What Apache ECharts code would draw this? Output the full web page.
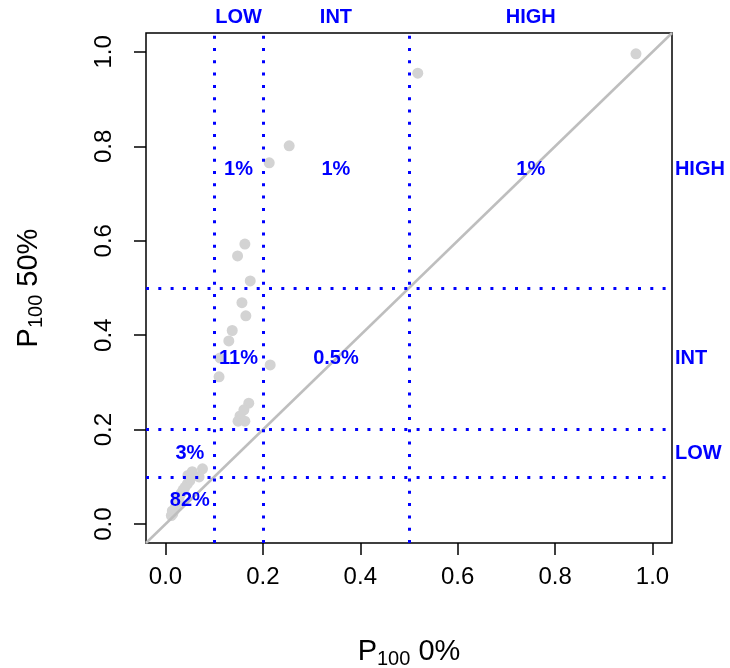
<!DOCTYPE html>
<html>
<head>
<meta charset="UTF-8">
<title>P100 0% vs P100 50%</title>
<script src="https://cdn.jsdelivr.net/npm/echarts@6/dist/echarts.min.js"></script>
<style>body{margin:0}</style>
</head>
<body>
<div id="main" style="width:730px;height:668px"></div>
<script>
// points: P100 at 0% (x) and at 50% (y)
var p0 = [0.966, 0.518, 0.254, 0.213, 0.163, 0.148, 0.174, 0.157, 0.165, 0.137, 0.130, 0.215, 0.112, 0.110,
          0.171, 0.161, 0.153, 0.149, 0.163,
          0.055, 0.076, 0.069, 0.046,
          0.050, 0.045, 0.040, 0.036, 0.032, 0.028, 0.025, 0.022, 0.020, 0.018, 0.015, 0.012, 0.014, 0.024];
var p50 = [0.996, 0.955, 0.801, 0.765, 0.593, 0.568, 0.515, 0.469, 0.441, 0.410, 0.388, 0.337, 0.352, 0.312,
           0.256, 0.242, 0.229, 0.218, 0.218,
           0.111, 0.117, 0.100, 0.103,
           0.092, 0.085, 0.078, 0.072, 0.065, 0.056, 0.048, 0.040, 0.035, 0.030, 0.022, 0.018, 0.028, 0.052];

var cutoffs = [0.1, 0.2, 0.5];
var tickValues = [0, 0.2, 0.4, 0.6, 0.8, 1.0];
var axisMin = -0.04, axisMax = 1.04;

var zoneNames = ['LOW', 'INT', 'HIGH'];
var zoneCenters = [0.15, 0.35, 0.75];

var cellText = ['82%', '3%', '11%', '1%', '0.5%', '1%', '1%'];
var cellX = [0.05, 0.05, 0.15, 0.15, 0.35, 0.35, 0.75];
var cellY = [0.05, 0.15, 0.35, 0.75, 0.35, 0.75, 0.75];

var blue = '#0000ff';
var font = 'Liberation Sans, Arial, sans-serif';
var topRow = 1.072, rightCol = 1.046;

var points = p0.map(function (x, i) { return [x, p50[i]]; });
var cells = cellText.map(function (t, i) { return { value: [cellX[i], cellY[i]], label: { formatter: t } }; });
var topLabels = zoneNames.map(function (t, i) { return { value: [zoneCenters[i], topRow], label: { formatter: t } }; });
var rightLabels = zoneNames.map(function (t, i) { return { value: [rightCol, zoneCenters[i]], label: { formatter: t } }; });

var cutLines = [];
cutoffs.forEach(function (c) { cutLines.push({ xAxis: c }); cutLines.push({ yAxis: c }); });

function axisCommon() {
    return {
        type: 'value',
        min: axisMin,
        max: axisMax,
        nameLocation: 'middle',
        axisLine: { show: false, onZero: false },
        splitLine: { show: false },
        axisTick: { show: true, inside: false, length: 12, customValues: tickValues,
                    lineStyle: { color: '#000', width: 1.5 } },
        axisLabel: { customValues: tickValues, color: '#000', fontSize: 24, fontFamily: font,
                     formatter: function (v) { return v.toFixed(1); } }
    };
}

var xAxis = axisCommon();
xAxis.name = '{a|P}{b|100}{a| 0%}';
xAxis.nameGap = 92;
xAxis.axisLabel.margin = 22;
xAxis.nameTextStyle = { color: '#000', fontFamily: font,
    rich: { a: { fontSize: 29, fontFamily: font, color: '#000' },
            b: { fontSize: 20, fontFamily: font, color: '#000', padding: [14, 0, 0, 0] } } };

var yAxis = axisCommon();
yAxis.name = '{a|P}{b|100}{a| 50%}';
yAxis.nameGap = 100;
yAxis.axisLabel.margin = 30;
yAxis.axisLabel.rotate = 90;
yAxis.nameTextStyle = xAxis.nameTextStyle;

function textSeries(data, pos) {
    return {
        type: 'scatter',
        data: data,
        symbolSize: 0,
        clip: false,
        silent: true,
        z: 5,
        itemStyle: { opacity: 1 },
        label: { show: true, position: pos, distance: 0, color: blue, fontWeight: 'bold',
                 fontSize: 20, fontFamily: font, opacity: 1 }
    };
}

var myChart = echarts.init(document.getElementById('main'));
var option = {
    animation: false,
    backgroundColor: '#fff',
    grid: { left: 146, right: 58, top: 33, bottom: 125, show: true, containLabel: false,
            outerBoundsMode: 'none',
            borderColor: '#000', borderWidth: 1.5, backgroundColor: 'transparent' },
    xAxis: xAxis,
    yAxis: yAxis,
    series: [{
        type: 'scatter',
        data: points,
        symbolSize: 11,
        itemStyle: { color: '#d3d3d3', opacity: 1 },
        z: 2
    }, {
        type: 'line',
        data: [[axisMin, axisMin], [axisMax, axisMax]],
        symbol: 'none',
        lineStyle: { color: '#bebebe', width: 2.5 },
        z: 3,
        markLine: {
            silent: true,
            symbol: ['none', 'none'],
            label: { show: false },
            lineStyle: { color: blue, width: 3, type: [3, 9.3], opacity: 1 },
            data: cutLines
        }
    },
    textSeries(cells, 'inside'),
    textSeries(topLabels, 'inside'),
    textSeries(rightLabels, 'right')]
};
myChart.setOption(option);
</script>
</body>
</html>
